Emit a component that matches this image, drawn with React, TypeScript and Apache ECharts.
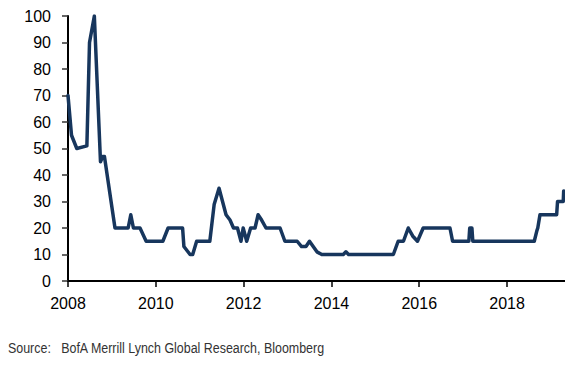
import React, { useEffect, useRef } from "react";
import * as echarts from "echarts";

const years: number[] = [
  2008.0, 2008.08, 2008.2, 2008.43, 2008.49, 2008.6, 2008.74, 2008.79, 2008.83,
  2009.07, 2009.37, 2009.43, 2009.49, 2009.64, 2009.78, 2010.16, 2010.28,
  2010.61, 2010.64, 2010.78, 2010.84, 2010.93, 2011.23, 2011.33, 2011.44,
  2011.6, 2011.69, 2011.77, 2011.86, 2011.94, 2011.99, 2012.07, 2012.16,
  2012.26, 2012.33, 2012.41, 2012.51, 2012.83, 2012.94, 2013.22, 2013.32,
  2013.42, 2013.5, 2013.67, 2013.78, 2014.27, 2014.33, 2014.39, 2015.41,
  2015.52, 2015.64, 2015.75, 2015.85, 2015.96, 2016.09, 2016.7, 2016.76,
  2017.13, 2017.15, 2017.2, 2017.22, 2018.62, 2018.68, 2018.7, 2018.75,
  2019.13, 2019.15, 2019.28, 2019.29,
];

const values: number[] = [
  70, 55, 50, 51, 90, 100, 45, 47, 47,
  20, 20, 25, 20, 20, 15, 15, 20,
  20, 13, 10, 10, 15, 15, 29, 35,
  25, 23, 20, 20, 15, 20, 15, 20,
  20, 25, 23, 20, 20, 15, 15, 13,
  13, 15, 11, 10, 10, 11, 10, 10,
  15, 15, 20, 17, 15, 20, 20, 15,
  15, 20, 20, 15, 15, 19, 20, 25,
  25, 30, 30, 34,
];

const xTicks: number[] = [2008, 2010, 2012, 2014, 2016, 2018];
const sourceText = "Source:   BofA Merrill Lynch Global Research, Bloomberg";

export default function App() {
  const ref = useRef<HTMLDivElement>(null);
  useEffect(() => {
    if (!ref.current) return;
    const chart = echarts.init(ref.current, null, { renderer: "svg" });
    const data = years.map((y, i) => [y, values[i]]);
    chart.setOption({
      animation: false,
      grid: { left: 60, right: 8, top: 7, bottom: 86 },
      xAxis: {
        type: "value",
        min: 2008,
        max: 2019.32,
        interval: 2,
        splitLine: { show: false },
        axisLine: { show: true, lineStyle: { color: "#000", width: 2 } },
        axisTick: {
          show: true,
          length: 6,
          inside: false,
          customValues: xTicks,
          lineStyle: { color: "#000", width: 1.5 },
        },
        axisLabel: {
          customValues: xTicks,
          formatter: (v: number) => String(Math.round(v)),
          color: "#000",
          fontFamily: "Liberation Sans",
          fontSize: 16,
          margin: 14,
        },
      },
      yAxis: {
        type: "value",
        min: 0,
        max: 100,
        interval: 10,
        splitLine: { show: false },
        axisLine: { show: true, lineStyle: { color: "#000", width: 2 } },
        axisTick: { show: true, length: 6, lineStyle: { color: "#333", width: 1.5 } },
        axisLabel: {
          color: "#000",
          fontFamily: "Liberation Sans",
          fontSize: 16,
          margin: 17,
        },
      },
      series: [
        {
          type: "line",
          data,
          showSymbol: false,
          symbol: "none",
          lineStyle: { color: "#17365d", width: 3.5, join: "round", cap: "round" },
        },
      ],
      graphic: [
        {
          type: "text",
          x: 0,
          y: 333,
          scaleX: 0.83,
          style: {
            text: sourceText,
            fill: "#333",
            fontFamily: "Liberation Sans",
            fontSize: 15,
          },
        },
      ],
    });
    return () => chart.dispose();
  }, []);
  return <div ref={ref} style={{ width: 565, height: 359 }} />;
}
